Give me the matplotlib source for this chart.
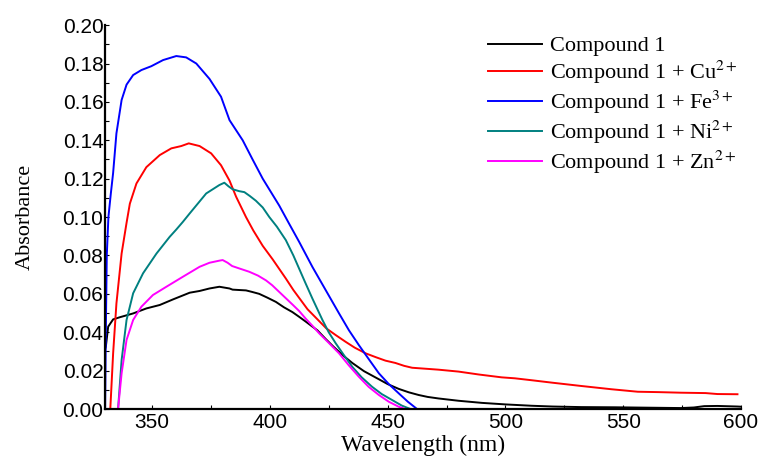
import numpy as np
import matplotlib.pyplot as plt
from matplotlib.ticker import MultipleLocator

# === STYLE SETTINGS ===
plt.rcParams['font.family'] = 'Liberation Serif'
plt.rcParams['mathtext.fontset'] = 'stix'

# wavelength (nm) / absorbance
wl_cmp = [330, 330.4, 331.4, 333.5, 336.3, 342, 347.6, 353.3, 358.9, 366, 370.2, 374.4, 378.6,
          382.9, 384.2, 387, 389.9, 392.5, 395.5, 399, 402.6, 406, 409.6, 412.5, 415.3, 418,
          420.2, 423.7, 427, 431, 435, 440, 446.3, 450, 454.7, 459, 463.2, 467, 471.6, 480.1,
          490, 500, 511.1, 520, 532.2, 546.4, 560, 574.5, 580, 584.4, 590, 598.5, 600]
abs_cmp = [0.031, 0.0324, 0.0429, 0.0467, 0.0478, 0.0498, 0.0524, 0.0542, 0.0571, 0.0606,
           0.0615, 0.0628, 0.0637, 0.0628, 0.0622, 0.062, 0.0618, 0.061, 0.060, 0.058, 0.0558,
           0.053, 0.0505, 0.048, 0.0455, 0.043, 0.041, 0.0365, 0.0325, 0.028, 0.024, 0.0197,
           0.0155, 0.013, 0.0105, 0.0087, 0.0073, 0.0063, 0.0055, 0.0043, 0.0032, 0.0024,
           0.0017, 0.0013, 0.0010, 0.0009, 0.0007, 0.0005, 0.0008, 0.0015, 0.0016, 0.0013, 0.0012]

wl_cu = [332.3, 333.5, 334.9, 337.1, 339.2, 340.6, 343.4, 347.6, 353.3, 358.2, 362.4, 365.6,
         370.2, 375.1, 379.3, 382.9, 385.7, 389.9, 393, 397, 401.2, 406.8, 410, 413, 416, 420,
         424, 428, 432.2, 436, 440.7, 445, 449.1, 453.3, 457, 460.4, 466, 471.6, 480.1, 488.6,
         498.4, 504, 511.1, 520, 532.2, 545, 556.2, 565, 574.5, 585, 590, 598.5]
abs_cu = [0.0, 0.029, 0.055, 0.081, 0.097, 0.107, 0.1175, 0.126, 0.1323, 0.1358, 0.137, 0.1384,
          0.137, 0.1332, 0.127, 0.119, 0.1106, 0.100, 0.093, 0.085, 0.078, 0.068, 0.062, 0.057,
          0.052, 0.047, 0.042, 0.0385, 0.035, 0.032, 0.029, 0.027, 0.0252, 0.024, 0.0225,
          0.0215, 0.021, 0.0205, 0.0195, 0.018, 0.0165, 0.016, 0.015, 0.0137, 0.012, 0.0103,
          0.009, 0.0088, 0.0085, 0.0083, 0.0078, 0.0077]

wl_fe = [330.1, 330.4, 330.8, 331.5, 332.5, 333.5, 334.9, 337.1, 339.2, 342, 345.5, 349.7,
         354.7, 360.3, 364.5, 368.8, 374.4, 379.3, 382.9, 388.5, 392.7, 397, 404, 408, 412.5,
         418.1, 423.7, 429.4, 433.6, 437.8, 442, 446.3, 450.5, 454.7, 458.6, 462.5]
abs_fe = [0.0, 0.04, 0.08, 0.1, 0.112, 0.123, 0.1436, 0.161, 0.169, 0.174, 0.1766, 0.1786,
          0.1818, 0.1839, 0.1832, 0.18, 0.172, 0.1627, 0.1505, 0.140, 0.130, 0.12, 0.106, 0.097,
          0.087, 0.074, 0.062, 0.0498, 0.041, 0.0333, 0.026, 0.0186, 0.013, 0.0082, 0.0038, 0.0]

wl_ni = [335.6, 337.1, 339.2, 342, 346.2, 351.9, 357.5, 360.3, 363.1, 366, 373, 378.6, 380.7,
         382.5, 384.2, 387, 389.2, 391.5, 394.1, 397, 399.8, 403, 406.8, 410, 412.5, 415, 418.1,
         422.3, 425, 428, 431.5, 435, 439, 443.4, 447.5, 451.9, 456, 459.7]
abs_ni = [0.0, 0.0255, 0.0464, 0.0603, 0.0707, 0.081, 0.0897, 0.0935, 0.0975, 0.1019, 0.1123,
          0.1167, 0.1179, 0.116, 0.1145, 0.1135, 0.113, 0.111, 0.1085, 0.105, 0.100, 0.095,
          0.088, 0.080, 0.073, 0.066, 0.0575, 0.0465, 0.040, 0.0342, 0.028, 0.022, 0.0165,
          0.0116, 0.0078, 0.0047, 0.0018, 0.0]

wl_zn = [335.6, 337.1, 339.2, 342, 345.5, 350.4, 356.1, 363.1, 370.2, 374.4, 378.6, 380, 382.1,
         384, 386.4, 391.3, 395, 398.4, 401, 404, 407, 410, 412.5, 415.3, 418, 420.9, 425,
         429.4, 433.5, 437.8, 442, 446.3, 450.5, 454.7, 457.5]
abs_zn = [0.0, 0.0186, 0.036, 0.0464, 0.0533, 0.0594, 0.0637, 0.0689, 0.0741, 0.0762, 0.0773,
          0.0776, 0.0762, 0.0745, 0.0735, 0.0715, 0.0695, 0.067, 0.0645, 0.061, 0.0575, 0.054,
          0.051, 0.047, 0.0435, 0.0395, 0.0345, 0.029, 0.0228, 0.0168, 0.0115, 0.0073, 0.0038,
          0.0012, 0.0]

labels = ['Compound 1', 'Compound 1 + Cu$^{2+}$', 'Compound 1 + Fe$^{3+}$',
          'Compound 1 + Ni$^{2+}$', 'Compound 1 + Zn$^{2+}$']
colors = ['black', 'red', 'blue', '#008080', 'magenta']

fig = plt.figure(figsize=(7.6, 4.57), dpi=100)
ax = fig.add_axes([0.138, 0.105, 0.837, 0.84])

series = [(wl_cmp, abs_cmp), (wl_cu, abs_cu), (wl_fe, abs_fe), (wl_ni, abs_ni), (wl_zn, abs_zn)]
for (x, y), lab, c in zip(series, labels, colors):
    ax.plot(x, y, color=c, lw=1.4, label=lab)

ax.set_xlim(330, 600)
ax.set_ylim(0, 0.2)
ax.xaxis.set_major_locator(MultipleLocator(50))
ax.xaxis.set_minor_locator(MultipleLocator(25))
ax.yaxis.set_major_locator(MultipleLocator(0.02))
ax.yaxis.set_minor_locator(MultipleLocator(0.01))
ax.yaxis.set_major_formatter(plt.FormatStrFormatter('%.2f'))

for s in ['top', 'right']:
    ax.spines[s].set_visible(False)
for s in ['left', 'bottom']:
    ax.spines[s].set_linewidth(1.6)

ax.tick_params(which='both', direction='in', length=3, width=0.8)
ax.tick_params(axis='y', pad=1)
ax.tick_params(axis='x', pad=3)
for t in ax.get_xticklabels() + ax.get_yticklabels():
    t.set_fontfamily('Liberation Sans')
    t.set_fontsize(15)

ax.set_xlabel('Wavelength (nm)', fontsize=17, labelpad=2)
ax.set_ylabel('Absorbance', fontsize=16, labelpad=20)

ax.legend(loc='upper left', bbox_to_anchor=(0.589, 0.995), frameon=False, fontsize=16,
          handlelength=2.4, handletextpad=0.35, labelspacing=0.12, borderaxespad=0)

plt.savefig('out.png', dpi=100)
